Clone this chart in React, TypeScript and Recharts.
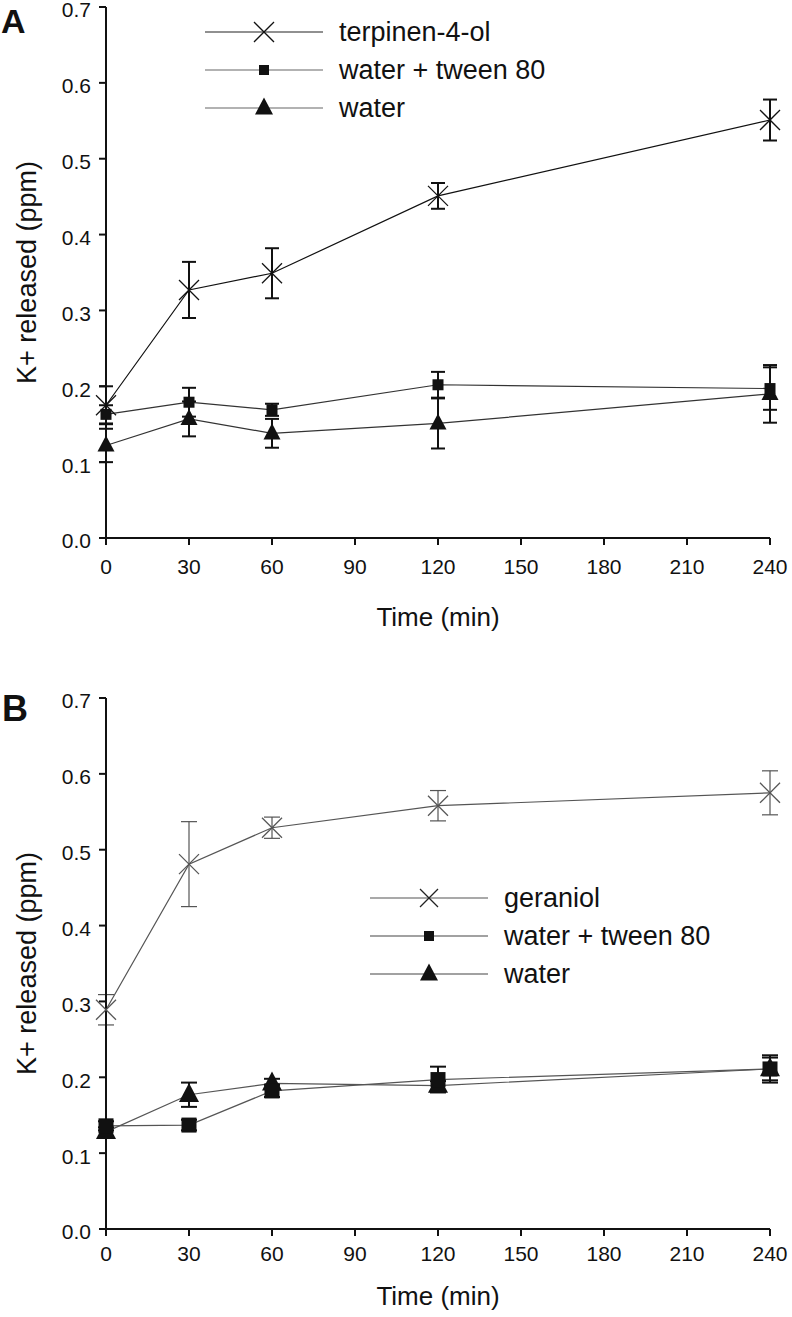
import React from 'react';
import { LineChart, Line, XAxis, YAxis, ErrorBar, Legend } from 'recharts';

const times = [0, 30, 60, 120, 240];
const xTicks = [0, 30, 60, 90, 120, 150, 180, 210, 240];
const yTicks = [0, 0.1, 0.2, 0.3, 0.4, 0.5, 0.6, 0.7];

// panel A
const terpinen = [0.175, 0.327, 0.349, 0.451, 0.551];
const terpinenErr = [0.025, 0.037, 0.033, 0.017, 0.027];
const tweenA = [0.163, 0.179, 0.169, 0.202, 0.197];
const tweenAErr = [0.012, 0.019, 0.008, 0.017, 0.028];
const waterA = [0.122, 0.157, 0.138, 0.151, 0.19];
const waterAErr = [0.022, 0.023, 0.019, 0.033, 0.038];

// panel B
const geraniol = [0.289, 0.481, 0.529, 0.558, 0.575];
const geraniolErr = [0.02, 0.056, 0.014, 0.02, 0.029];
const tweenB = [0.136, 0.137, 0.182, 0.197, 0.211];
const tweenBErr = [0.006, 0.007, 0.008, 0.017, 0.015];
const waterB = [0.128, 0.177, 0.192, 0.189, 0.211];
const waterBErr = [0.006, 0.016, 0.006, 0.006, 0.018];

const dataA = times.map((t, i) => ({
  t,
  oil: terpinen[i], oilErr: terpinenErr[i],
  tween: tweenA[i], tweenErr: tweenAErr[i],
  water: waterA[i], waterErr: waterAErr[i],
}));

const dataB = times.map((t, i) => ({
  t,
  oil: geraniol[i], oilErr: geraniolErr[i],
  tween: tweenB[i], tweenErr: tweenBErr[i],
  water: waterB[i], waterErr: waterBErr[i],
}));

const FONT = 'Arial, "Liberation Sans", Helvetica, sans-serif';

type Kind = 'x' | 'square' | 'triangle';

const Marker = ({ kind, cx, cy, size, color }: { kind: Kind; cx: number; cy: number; size: number; color: string }) => {
  const h = size / 2;
  if (kind === 'x') {
    return (
      <g stroke={color} strokeWidth={1.3}>
        <line x1={cx - h} y1={cy - h} x2={cx + h} y2={cy + h} />
        <line x1={cx - h} y1={cy + h} x2={cx + h} y2={cy - h} />
      </g>
    );
  }
  if (kind === 'square') {
    return <rect x={cx - h} y={cy - h} width={size} height={size} fill={color} />;
  }
  const th = size * 0.95;
  return (
    <polygon
      points={`${cx},${cy - th * 0.62} ${cx - h},${cy + th * 0.38} ${cx + h},${cy + th * 0.38}`}
      fill={color}
    />
  );
};

const dotFn = (kind: Kind, size: number, color: string) => (props: any) => {
  const { cx, cy, index } = props;
  if (cx == null || cy == null) return <g key={`d-${index}`} />;
  return (
    <g key={`d-${kind}-${index}`}>
      <Marker kind={kind} cx={cx} cy={cy} size={size} color={color} />
    </g>
  );
};

type Row = { name: string; kind: Kind; size: number; line: string; marker: string };

const makeLegend = (rows: Row[], gap: number) => () => (
  <svg width={420} height={gap * rows.length + 20} style={{ overflow: 'visible' }}>
    {rows.map((r, i) => {
      const y = 14 + i * gap;
      return (
        <g key={r.name}>
          <line x1={0} x2={118} y1={y} y2={y} stroke={r.line} strokeWidth={1.2} />
          <Marker kind={r.kind} cx={59} cy={y} size={r.size} color={r.marker} />
          <text x={134} y={y} dy="0.35em" fontSize={27} fontFamily={FONT} fill="#111">
            {r.name}
          </text>
        </g>
      );
    })}
  </svg>
);

const legendA: Row[] = [
  { name: 'terpinen-4-ol', kind: 'x', size: 20, line: '#222', marker: '#111' },
  { name: 'water + tween 80', kind: 'square', size: 10, line: '#666', marker: '#111' },
  { name: 'water', kind: 'triangle', size: 18, line: '#666', marker: '#111' },
];

const legendB: Row[] = [
  { name: 'geraniol', kind: 'x', size: 18, line: '#555', marker: '#222' },
  { name: 'water + tween 80', kind: 'square', size: 10, line: '#444', marker: '#111' },
  { name: 'water', kind: 'triangle', size: 18, line: '#444', marker: '#111' },
];

const tickStyle = { fontSize: 21, fontFamily: FONT, fill: '#111' };

interface PanelProps {
  data: any[];
  height: number;
  top: number;
  xAxisLabelOffset: number;
  xTickMargin: number;
  bottom: number;
  oilColor: string;
  lineColor: string;
  oilSize: number;
  squareSize: number;
  triSize: number;
  capWidth: number;
  oilErrWidth: number;
  legendRows: Row[];
  legendPos: { left: number; top: number };
  legendGap: number;
}

const Panel = (p: PanelProps) => (
  <LineChart
    width={792}
    height={p.height}
    data={p.data}
    margin={{ top: p.top, right: 22, left: 0, bottom: p.bottom }}
  >
    <XAxis
      dataKey="t"
      type="number"
      domain={[0, 240]}
      ticks={xTicks}
      interval={0}
      height={40}
      tick={tickStyle}
      tickSize={7}
      tickMargin={p.xTickMargin}
      stroke="#111"
      strokeWidth={2}
      label={{ value: 'Time (min)', position: 'bottom', offset: p.xAxisLabelOffset, fontSize: 26, fontFamily: FONT, fill: '#111' }}
    />
    <YAxis
      type="number"
      domain={[0, 0.7]}
      ticks={yTicks}
      interval={0}
      width={106}
      tick={{ ...tickStyle, dy: 3 }}
      tickSize={7}
      tickMargin={8}
      tickFormatter={(v: number) => v.toFixed(1)}
      stroke="#111"
      strokeWidth={2}
      label={{
        value: 'K+ released (ppm)',
        angle: -90,
        position: 'insideLeft',
        offset: 26,
        fontSize: 27,
        fontFamily: FONT,
        fill: '#111',
        style: { textAnchor: 'middle' },
      }}
    />
    <Legend
      layout="horizontal"
      verticalAlign="middle"
      align="center"
      content={makeLegend(p.legendRows, p.legendGap)}
      wrapperStyle={{ left: p.legendPos.left, top: p.legendPos.top, width: 420 }}
    />
    <Line
      dataKey="water"
      stroke={p.lineColor}
      strokeWidth={1.2}
      isAnimationActive={false}
      dot={dotFn('triangle', p.triSize, '#111')}
      activeDot={false}
    >
      <ErrorBar dataKey="waterErr" direction="y" width={p.capWidth} stroke="#111" strokeWidth={2} />
    </Line>
    <Line
      dataKey="tween"
      stroke={p.lineColor}
      strokeWidth={1.2}
      isAnimationActive={false}
      dot={dotFn('square', p.squareSize, '#111')}
      activeDot={false}
    >
      <ErrorBar dataKey="tweenErr" direction="y" width={p.capWidth} stroke="#111" strokeWidth={2} />
    </Line>
    <Line
      dataKey="oil"
      stroke={p.oilColor}
      strokeWidth={1.2}
      isAnimationActive={false}
      dot={dotFn('x', p.oilSize, p.oilColor)}
      activeDot={false}
    >
      <ErrorBar dataKey="oilErr" direction="y" width={p.capWidth} stroke={p.oilColor} strokeWidth={p.oilErrWidth} />
    </Line>
  </LineChart>
);

export default function App() {
  return (
    <div style={{ position: 'absolute', left: 0, top: 0, width: 792, height: 1317, background: '#fff' }}>
      <div style={{ position: 'absolute', left: 0, top: 0 }}>
        <Panel
          data={dataA}
          height={655}
          top={7}
          bottom={77}
          xAxisLabelOffset={30}
          xTickMargin={14}
          oilColor="#111"
          lineColor="#333"
          oilSize={20}
          squareSize={11}
          triSize={17}
          capWidth={7}
          oilErrWidth={2}
          legendRows={legendA}
          legendPos={{ left: 205, top: 18 }}
          legendGap={38}
        />
      </div>
      <div style={{ position: 'absolute', left: 0, top: 655 }}>
        <Panel
          data={dataB}
          height={662}
          top={43}
          bottom={48}
          xAxisLabelOffset={18}
          xTickMargin={10}
          oilColor="#555"
          lineColor="#555"
          oilSize={20}
          squareSize={15}
          triSize={20}
          capWidth={8}
          oilErrWidth={1.2}
          legendRows={legendB}
          legendPos={{ left: 370, top: 229 }}
          legendGap={38}
        />
      </div>
      <div style={{ position: 'absolute', left: 1, top: 1, fontFamily: FONT, fontWeight: 700, fontSize: 34, lineHeight: '40px', color: '#111' }}>
        A
      </div>
      <div style={{ position: 'absolute', left: 2, top: 689, fontFamily: FONT, fontWeight: 700, fontSize: 36, lineHeight: '40px', color: '#111' }}>
        B
      </div>
    </div>
  );
}
